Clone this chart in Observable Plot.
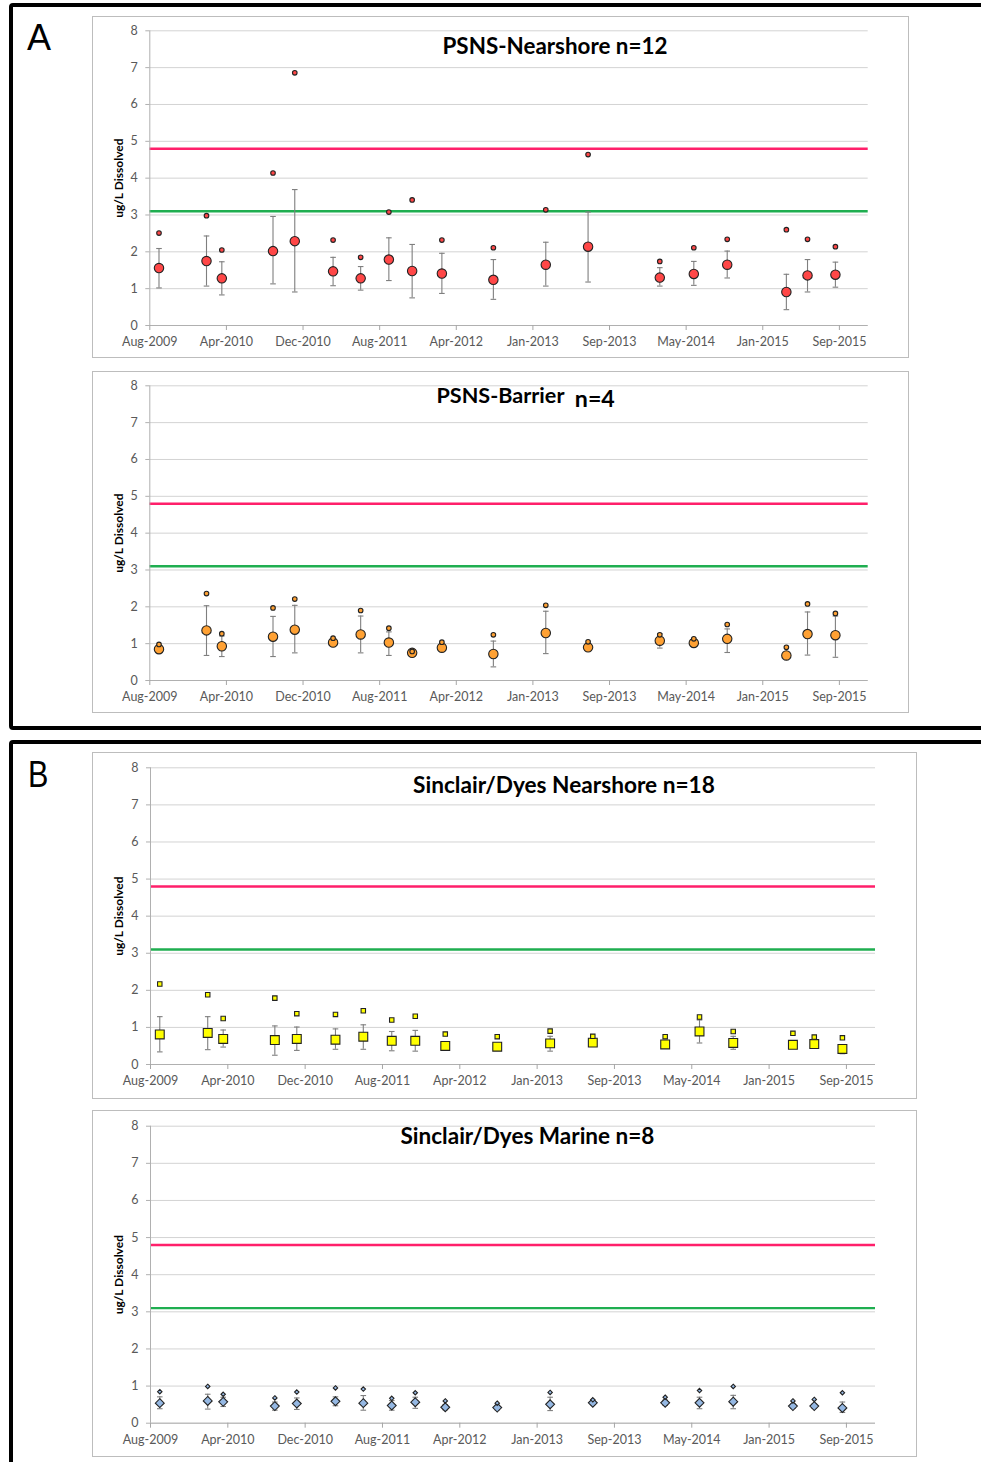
<!DOCTYPE html>
<html>
<head>
<meta charset="utf-8">
<script src="https://cdn.jsdelivr.net/npm/d3@7"></script>
<script src="https://cdn.jsdelivr.net/npm/@observablehq/plot@0.6"></script>
<style>
  html, body { margin: 0; padding: 0; background: #fff; overflow: hidden; width: 981px; height: 1462px; }
  .group { position: absolute; border: 4px solid #000; border-radius: 4px; box-sizing: border-box; }
  .letter { position: absolute; font-family: "Liberation Sans", Arial, sans-serif; font-size: 36px; line-height: 36px; color: #000; }
  .panel { position: absolute; border: 1px solid #bdbdbd; box-sizing: border-box; background: #fff; }
  .panel svg { position: absolute; left: 0; top: 0; }
</style>
</head>
<body>
<div class="group" style="left:9px;top:3px;width:1000px;height:727px;"></div>
<div class="group" style="left:9px;top:740px;width:1000px;height:800px;"></div>
<div class="letter" style="left:27px;top:20px;">A</div>
<div class="letter" style="left:28px;top:757px;transform:scaleX(0.85);transform-origin:left top;">B</div>
<div id="root"></div>
<script>
// ---------------- DATA ----------------
const sampleDates = ["2009-08-31","2010-02-02","2010-03-24","2010-09-07","2010-11-17","2011-03-22","2011-06-20","2011-09-20","2011-12-05","2012-03-11","2012-08-26","2013-02-13","2013-07-01","2014-02-20","2014-06-11","2014-09-28","2015-04-09","2015-06-17","2015-09-16"];

const xTickDates  = ["2009-08-01","2010-04-08","2010-12-14","2011-08-21","2012-04-27","2013-01-02","2013-09-09","2014-05-17","2015-01-22","2015-09-29"];
const xTickLabels = ["Aug-2009","Apr-2010","Dec-2010","Aug-2011","Apr-2012","Jan-2013","Sep-2013","May-2014","Jan-2015","Sep-2015"];
const xDomain = ["2009-08-01","2016-01-01"];
const yTicks = [0,1,2,3,4,5,6,7,8];
const pinkLine = 4.8;
const greenLine = 3.1;

// PSNS-Nearshore n=12
const psnsNearMean = [1.56,1.75,1.28,2.02,2.29,1.47,1.28,1.79,1.48,1.41,1.24,1.65,2.14,1.30,1.40,1.65,0.91,1.36,1.38];
const psnsNearHigh = [2.09,2.43,1.73,2.96,3.69,1.85,1.60,2.38,2.20,1.96,1.79,2.26,3.08,1.57,1.74,2.02,1.39,1.79,1.72];
const psnsNearLow  = [1.02,1.07,0.83,1.13,0.91,1.08,0.96,1.22,0.75,0.87,0.71,1.07,1.18,1.07,1.09,1.29,0.43,0.91,1.04];
const psnsNearMax  = [2.51,2.98,2.05,4.14,6.86,2.32,1.85,3.08,3.41,2.32,2.11,3.14,4.64,1.74,2.11,2.34,2.60,2.34,2.14];

// PSNS-Barrier n=4
const psnsBarMean = [0.85,1.36,0.93,1.19,1.38,1.03,1.25,1.03,0.75,0.89,0.72,1.29,0.90,1.08,1.02,1.13,0.68,1.26,1.23];
const psnsBarHigh = [0.90,2.03,1.21,1.74,2.04,1.10,1.75,1.32,0.79,0.98,1.07,1.88,0.97,1.27,1.10,1.40,0.77,1.86,1.75];
const psnsBarLow  = [0.80,0.68,0.65,0.65,0.75,0.97,0.75,0.68,0.71,0.80,0.37,0.73,0.83,0.88,0.94,0.76,0.60,0.69,0.63];
const psnsBarMax  = [0.98,2.36,1.27,1.97,2.21,1.15,1.90,1.42,0.79,1.04,1.24,2.04,1.05,1.24,1.13,1.52,0.90,2.08,1.82];

// Sinclair/Dyes Nearshore n=18
const sdNearMean = [0.81,0.85,0.69,0.66,0.69,0.67,0.75,0.64,0.64,0.50,0.48,0.57,0.59,0.54,0.89,0.58,0.53,0.55,0.42];
const sdNearHigh = [1.29,1.29,0.93,1.04,1.01,0.96,1.07,0.89,0.92,0.58,0.56,0.76,0.66,0.62,1.20,0.76,0.61,0.62,0.52];
const sdNearLow  = [0.34,0.40,0.47,0.25,0.38,0.41,0.41,0.37,0.36,0.42,0.40,0.36,0.52,0.46,0.58,0.41,0.45,0.48,0.29];
const sdNearMax  = [2.17,1.88,1.24,1.79,1.37,1.35,1.45,1.20,1.30,0.82,0.75,0.90,0.76,0.75,1.28,0.89,0.84,0.74,0.72];

// Sinclair/Dyes Marine n=8
const sdMarMean = [0.54,0.60,0.575,0.46,0.53,0.59,0.54,0.475,0.565,0.43,0.42,0.51,0.55,0.55,0.55,0.58,0.46,0.46,0.41];
const sdMarHigh = [0.71,0.78,0.70,0.57,0.68,0.71,0.745,0.61,0.70,0.50,0.48,0.70,0.60,0.62,0.70,0.75,0.52,0.52,0.57];
const sdMarLow  = [0.39,0.38,0.45,0.35,0.37,0.47,0.35,0.35,0.40,0.36,0.36,0.34,0.50,0.48,0.39,0.39,0.40,0.40,0.29];
const sdMarMax  = [0.85,0.99,0.78,0.68,0.84,0.95,0.92,0.67,0.82,0.60,0.54,0.83,0.63,0.70,0.88,0.99,0.60,0.64,0.82];

const titles = [["PSNS-Nearshore n=12"], ["PSNS-Barrier", "n=4"], ["Sinclair/Dyes Nearshore n=18"], ["Sinclair/Dyes Marine n=8"]];
const yLabel = "ug/L Dissolved";

// ---------------- LAYOUT / STYLE ----------------
const capSymbol = { draw(ctx, size) { const w = Math.sqrt(size / Math.PI); ctx.moveTo(-w, 0); ctx.lineTo(w, 0); } };

const panels = [
  { box: [92, 16, 817, 342], ml: 56.3, mr: 40.3, mt: 13.3, mb: 32,
    mean: psnsNearMean, high: psnsNearHigh, low: psnsNearLow, max: psnsNearMax,
    symbol: "circle", fill: "#ff4747", rBig: 4.7, rSmall: 2.3,
    title: titles[0], titlePos: [[292.7, 15.7, 225]] },
  { box: [92, 371, 817, 342], ml: 56.3, mr: 40.3, mt: 13.3, mb: 32,
    mean: psnsBarMean, high: psnsBarHigh, low: psnsBarLow, max: psnsBarMax,
    symbol: "circle", fill: "#ffa133", rBig: 4.7, rSmall: 2.3,
    title: titles[1], titlePos: [[286.7, 10.7, 128], [425, 14.2, 40]] },
  { box: [92, 752, 825, 347], ml: 57, mr: 41, mt: 14.3, mb: 34,
    mean: sdNearMean, high: sdNearHigh, low: sdNearLow, max: sdNearMax,
    symbol: "square", fill: "#ffff00", rBig: 5.0, rSmall: 2.5,
    title: titles[2], titlePos: [[262.5, 18.2, 302]] },
  { box: [92, 1110, 825, 347], ml: 57, mr: 41, mt: 14.7, mb: 33.3,
    mean: sdMarMean, high: sdMarHigh, low: sdMarLow, max: sdMarMax,
    symbol: "diamond2", fill: "#95b8e3", rBig: 4.0, rSmall: 2.0,
    title: titles[3], titlePos: [[250, 10.6, 254]] }
];

const tickLabelMap = new Map(xTickDates.map((d, i) => [+new Date(d), xTickLabels[i]]));
const root = document.getElementById("root");

panels.forEach((p) => {
  const [left, top, w, h] = p.box;
  const div = document.createElement("div");
  div.className = "panel";
  Object.assign(div.style, { left: left + "px", top: top + "px", width: w + "px", height: h + "px" });
  root.appendChild(div);

  const data = sampleDates.map((d, i) => ({ date: new Date(d), mean: p.mean[i], high: p.high[i], low: p.low[i], max: p.max[i] }));

  const titleMarks = p.title.map((t, k) => Plot.text([t], {
    text: (d) => d, frameAnchor: "top-left", textAnchor: "start", lineAnchor: "middle",
    dx: p.titlePos[k][0], dy: p.titlePos[k][1], fontWeight: "bold", fontSize: 21, fill: "#000",
    fontFamily: "Lato"
  }));

  const chart = Plot.plot({
    width: w - 2, height: h - 2,
    marginLeft: p.ml, marginRight: p.mr, marginTop: p.mt, marginBottom: p.mb,
    style: { fontFamily: "Lato", fontSize: "12.5px", color: "#595959", background: "transparent", overflow: "visible" },
    x: { type: "utc", domain: xDomain.map((d) => new Date(d)) },
    y: { domain: [0, 8] },
    marks: [
      Plot.ruleY(yTicks, { stroke: "#d3d3d3", strokeWidth: 1 }),
      Plot.ruleY([pinkLine], { stroke: "#ff1f6a", strokeWidth: 2.4 }),
      Plot.ruleY([greenLine], { stroke: "#1fae50", strokeWidth: 2.4 }),
      Plot.ruleY([0], { stroke: "#b0b0b0", strokeWidth: 1 }),
      Plot.ruleX([new Date(xDomain[0])], { stroke: "#b0b0b0", strokeWidth: 1 }),
      Plot.axisX({ ticks: xTickDates.map((d) => new Date(d)), tickFormat: (d) => tickLabelMap.get(+d), tickSize: 5, tickPadding: 7, stroke: "#a6a6a6", fill: "#595959", label: null }),
      Plot.axisY({ ticks: yTicks, tickSize: 4, tickPadding: 8, stroke: "#b0b0b0", fill: "#595959", label: null }),
      Plot.text([yLabel], { text: (d) => d, frameAnchor: "left", textAnchor: "middle", lineAnchor: "middle", rotate: -90, dx: -31, fontWeight: "bold", fontSize: 12, fill: "#000", fontFamily: "Lato" }),
      ...titleMarks,
      Plot.ruleX(data, { x: "date", y1: "low", y2: "high", stroke: "#7f7f7f", strokeWidth: 1.1 }),
      Plot.dot(data, { x: "date", y: "high", symbol: capSymbol, r: 2.8, fill: "none", stroke: "#7f7f7f", strokeWidth: 1.1 }),
      Plot.dot(data, { x: "date", y: "low", symbol: capSymbol, r: 2.8, fill: "none", stroke: "#7f7f7f", strokeWidth: 1.1 }),
      Plot.dot(data, { x: "date", y: "mean", symbol: p.symbol, r: p.rBig, fill: p.fill, stroke: "#222", strokeWidth: 1.1 }),
      Plot.dot(data, { x: "date", y: "max", symbol: p.symbol, r: p.rSmall, fill: p.fill, stroke: "#222", strokeWidth: 1.1 })
    ]
  });
  div.appendChild(chart);

  // fit title widths to the reference
  p.title.forEach((t, k) => {
    const el = [...chart.querySelectorAll("text")].find((e) => e.textContent === t);
    if (!el) return;
    const wNow = el.getComputedTextLength();
    if (wNow > 0) el.setAttribute("font-size", (21 * p.titlePos[k][2] / wNow).toFixed(2));
  });
});
</script>
</body>
</html>
